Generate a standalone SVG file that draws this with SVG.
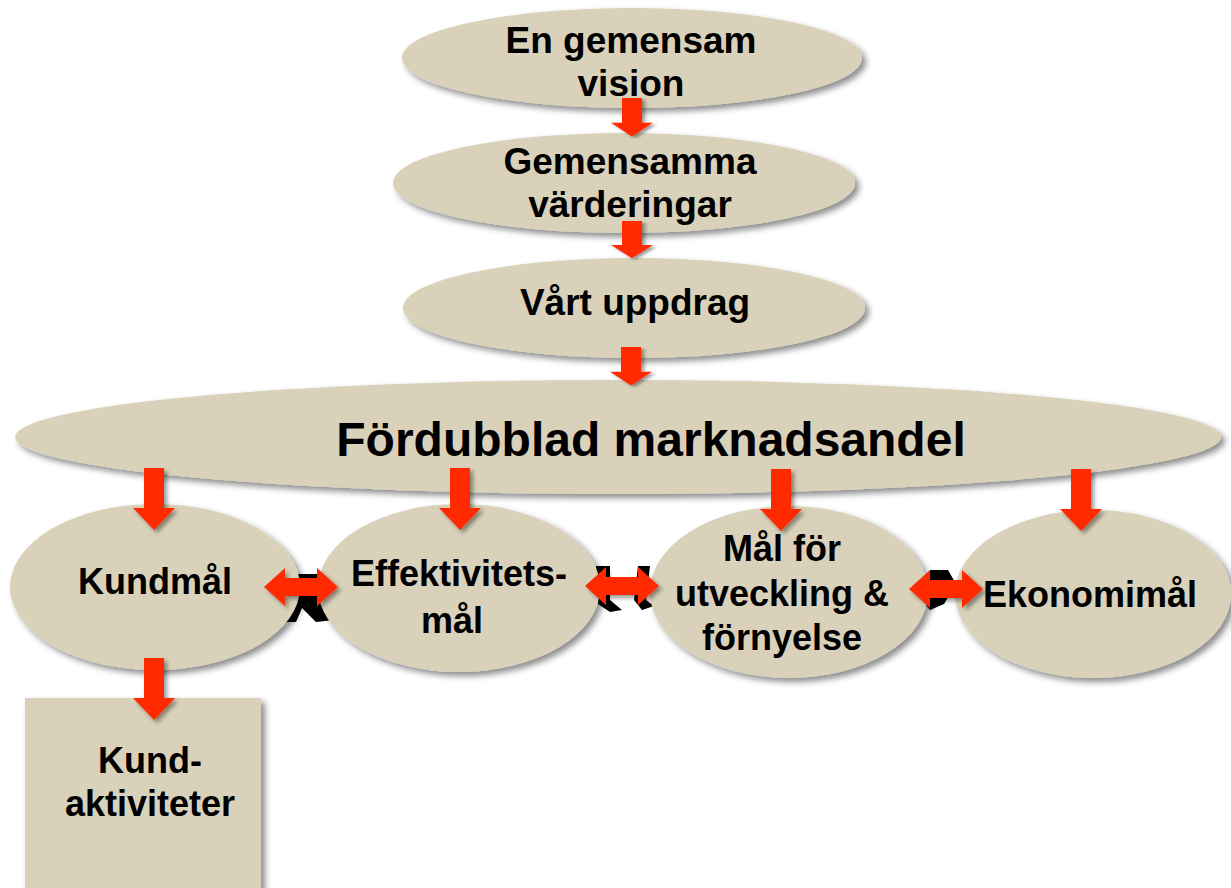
<svg xmlns="http://www.w3.org/2000/svg" width="1231" height="888" viewBox="0 0 1231 888">
<defs>
<filter id="sh" x="-10%" y="-10%" width="125%" height="130%">
<feDropShadow dx="4" dy="4" stdDeviation="3" flood-color="#000" flood-opacity="0.45"/>
</filter>
<filter id="ash" x="-30%" y="-30%" width="170%" height="170%">
<feDropShadow dx="3" dy="3" stdDeviation="2" flood-color="#000" flood-opacity="0.4"/>
</filter>
<polygon id="down" points="-10,0 10,0 10,40 21,40 0,62 -21,40 -10,40"/>
<polygon id="dbl" points="-37,0 -16,-19 -16,-9 16,-9 16,-19 37,0 16,19 16,9 -16,9 -16,19"/>
</defs>
<style>
.n{fill:#d9d1b9;filter:url(#sh)}
.t{font-family:"Liberation Sans",Arial,sans-serif;font-weight:bold;fill:#000;text-anchor:middle}
.a{fill:#ff2a00;filter:url(#ash)}
.b{fill:#000}
</style>
<rect width="1231" height="888" fill="#fff"/>
<g id="n1"><ellipse class="n" cx="632" cy="58" rx="230" ry="50"/><text class="t" x="631" y="53" font-size="37">En gemensam</text><text class="t" x="631" y="96" font-size="37">vision</text></g>
<g id="n2"><ellipse class="n" cx="624" cy="183" rx="231" ry="50"/><text class="t" x="630" y="174" font-size="37">Gemensamma</text><text class="t" x="630" y="217" font-size="37">värderingar</text></g>
<g id="n3"><ellipse class="n" cx="634" cy="308" rx="231" ry="50"/><text class="t" x="635" y="315" font-size="37">Vårt uppdrag</text></g>
<g id="n4"><ellipse class="n" cx="618" cy="437" rx="603" ry="57"/><text class="t" x="651" y="456" font-size="48">Fördubblad marknadsandel</text></g>
<g id="black">
<polygon class="b" points="284,574 326,574 318,592 334,620 316,622 302,608 296,622 284,622 294,600"/>
<polygon class="b" points="596,566 610,566 610,600 622,610 610,612 598,604"/>
<polygon class="b" points="638,566 650,566 646,600 654,606 642,610 634,600"/>
<polygon class="b" points="930,570 948,570 956,584 944,604 930,610 922,600"/>
<polygon class="b" points="960,572 976,572 980,604 964,606 956,596"/>
</g>
<g id="n5"><ellipse class="n" cx="155" cy="587" rx="145" ry="83"/><text class="t" x="155" y="594" font-size="36">Kundmål</text></g>
<g id="n6"><ellipse class="n" cx="459" cy="588" rx="141" ry="84"/><text class="t" x="459" y="586" font-size="36">Effektivitets-</text><text class="t" x="452" y="633" font-size="36">mål</text></g>
<g id="n7"><ellipse class="n" cx="789" cy="592" rx="139" ry="86"/><text class="t" x="782" y="561" font-size="36">Mål för</text><text class="t" x="782" y="606" font-size="36">utveckling &amp;</text><text class="t" x="782" y="650" font-size="36">förnyelse</text></g>
<g id="n8"><ellipse class="n" cx="1093" cy="594" rx="138" ry="84"/><text class="t" x="1090" y="607" font-size="36">Ekonomimål</text></g>
<g id="n9"><rect class="n" x="25" y="698" width="236" height="195"/><text class="t" x="150" y="773" font-size="36">Kund-</text><text class="t" x="150" y="816" font-size="36">aktiviteter</text></g>
<g id="connectors">
<use href="#down" class="a" transform="translate(632,98) scale(1,0.62)"/>
<use href="#down" class="a" transform="translate(632,221) scale(1,0.6)"/>
<use href="#down" class="a" transform="translate(631,347) scale(1,0.62)"/>
<use href="#down" class="a" transform="translate(154,468)"/>
<use href="#down" class="a" transform="translate(460,468)"/>
<use href="#down" class="a" transform="translate(781,469)"/>
<use href="#down" class="a" transform="translate(1081,469)"/>
<use href="#down" class="a" transform="translate(154,658)"/>
<use href="#dbl" class="a" transform="translate(301,587)"/>
<use href="#dbl" class="a" transform="translate(622,586)"/>
<use href="#dbl" class="a" transform="translate(946,589)"/>
</g>
</svg>
